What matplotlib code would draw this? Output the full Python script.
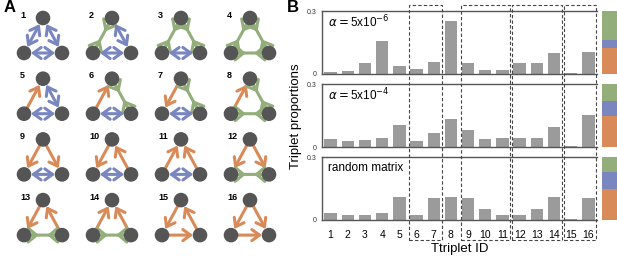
import numpy as np
import matplotlib.pyplot as plt
from matplotlib.patches import Circle, FancyArrowPatch, Rectangle
from matplotlib.transforms import blended_transform_factory

plt.rcParams['font.family'] = ['Liberation Sans', 'DejaVu Sans']

# ---- data ----
triplet_ids = np.arange(1, 17)
prop_low = [0.010, 0.013, 0.052, 0.160, 0.037, 0.023, 0.057, 0.256,
            0.052, 0.019, 0.019, 0.052, 0.052, 0.100, 0.004, 0.105]
prop_high = [0.037, 0.030, 0.035, 0.041, 0.106, 0.030, 0.065, 0.133,
             0.081, 0.037, 0.044, 0.045, 0.043, 0.094, 0.005, 0.156]
prop_random = [0.035, 0.025, 0.024, 0.035, 0.110, 0.024, 0.107, 0.111,
               0.106, 0.052, 0.024, 0.025, 0.052, 0.109, 0.006, 0.107]
panel_labels = [r'$\alpha = $5x10$^{-6}$', r'$\alpha = $5x10$^{-4}$', 'random matrix']

# edge type fractions (green, blue, orange) for each panel
frac_green = [0.46, 0.26, 0.24]
frac_blue = [0.12, 0.25, 0.26]
frac_orange = [0.42, 0.49, 0.50]

# groups boxed with dashed lines
groups = [(6, 7), (9, 11), (12, 14), (15, 16)]

# motifs: sides (top-left, top-right, left-right)
# 'B' blue two-way, 'G' green, '>' orange first->second, '<' orange second->first
motifs = [
    ('B', 'B', 'B'), ('G', 'B', 'B'), ('G', 'G', 'B'), ('G', 'G', 'G'),
    ('<', 'B', 'B'), ('<', 'G', 'B'), ('>', 'G', 'B'), ('<', 'G', 'G'),
    ('>', '>', 'B'), ('>', '<', 'B'), ('<', '<', 'B'), ('>', '>', 'G'),
    ('>', '<', 'G'), ('<', '<', 'G'), ('>', '<', '>'), ('>', '>', '>'),
]

blue = '#7a86bf'
green = '#93ae7b'
orange = '#d98a59'
node_c = '#555555'
bar_c = '#9b9b9b'
spine_c = '#555555'

fig = plt.figure(figsize=(6.17, 2.58), dpi=100)

# ---- panel A (drawn in pixel units) ----
axA = fig.add_axes([0, 0, 300 / 617, 1])
axA.set_xlim(0, 300)
axA.set_ylim(258, 0)
axA.axis('off')

R = 6.6
hp = ',head_length=0.55,head_width=0.4'
hp_g = ',head_length=0.6,head_width=0.5'


def seg(p, q, gap=R + 0.3):
    p, q = np.array(p, float), np.array(q, float)
    d = (q - p) / np.linalg.norm(q - p)
    return p + d * gap, q - d * gap


def draw_edge(p, q, kind):
    a, b = seg(p, q)
    kw = dict(mutation_scale=10, lw=2.2, shrinkA=0, shrinkB=0)
    if kind == 'B':
        axA.add_patch(FancyArrowPatch(a, b, arrowstyle='<->' + hp, color=blue, **kw))
    elif kind == '>':
        axA.add_patch(FancyArrowPatch(a, b, arrowstyle='->' + hp, color=orange, **kw))
    elif kind == '<':
        axA.add_patch(FancyArrowPatch(b, a, arrowstyle='->' + hp, color=orange, **kw))
    else:
        axA.add_patch(FancyArrowPatch(a, b, arrowstyle='-', color=green, **kw))
        axA.add_patch(FancyArrowPatch(a, a + (b - a) * 0.33, arrowstyle='->' + hp_g, color=green, **kw))
        axA.add_patch(FancyArrowPatch(b, b + (a - b) * 0.33, arrowstyle='->' + hp_g, color=green, **kw))


for i, sides in enumerate(motifs):
    r, c = divmod(i, 4)
    tx, ty = 43 + 69 * c, 18 + 60.7 * r
    T = (tx, ty)
    L = (tx - 19, ty + 35)
    Rn = (tx + 19, ty + 35)
    draw_edge(T, L, sides[0])
    draw_edge(T, Rn, sides[1])
    draw_edge(L, Rn, sides[2])
    for p in (T, L, Rn):
        axA.add_patch(Circle(p, R, color=node_c, zorder=5))
    axA.text(tx - 23, ty - 3, str(i + 1), fontsize=6.5, fontweight='bold',
             ha='left', va='center')

# ---- panel B ----
left, width, height = 322 / 617, 275 / 617, 0.2423
bottoms = [0.7132, 0.4302, 0.1473]
series = [prop_low, prop_high, prop_random]
axes = []
for k, (bot, vals, lab) in enumerate(zip(bottoms, series, panel_labels)):
    ax = fig.add_axes([left, bot, width, height])
    ax.bar(triplet_ids, vals, width=0.72, color=bar_c)
    ax.set_xlim(0.5, 16.5)
    ax.set_ylim(0, 0.3)
    ax.set_yticks([0, 0.3])
    ax.set_yticklabels(['0', '0.3'], fontsize=5, color='#333333')
    ax.tick_params(length=0, pad=4)
    ax.spines['right'].set_visible(False)
    for s in ('left', 'top', 'bottom'):
        ax.spines[s].set_color(spine_c)
        ax.spines[s].set_linewidth(1.0)
    if k < 2:
        ax.set_xticks([])
    else:
        ax.set_xticks(triplet_ids)
        ax.set_xticklabels([str(t) for t in triplet_ids], fontsize=7.5)
        ax.tick_params(axis='x', pad=7)
    ax.text(0.02, 0.83, lab, transform=ax.transAxes, fontsize=8.5, va='center')
    axes.append(ax)

    # edge type bar on the right
    axc = fig.add_axes([602 / 617, bot, 15 / 617, height])
    axc.bar([0], [frac_orange[k]], width=1, color=orange)
    axc.bar([0], [frac_blue[k]], bottom=frac_orange[k], width=1, color=blue)
    axc.bar([0], [frac_green[k]], bottom=frac_orange[k] + frac_blue[k], width=1, color=green)
    axc.set_xlim(-0.5, 0.5)
    axc.set_ylim(0, 1)
    axc.axis('off')

trans = blended_transform_factory(axes[2].transData, fig.transFigure)
for a, b in groups:
    rect = Rectangle((a - 0.42, 1 - 240 / 258), (b - a) + 0.88, 235 / 258,
                     transform=trans, fill=False, ec='#444444', lw=0.8,
                     ls=(0, (3, 2)), clip_on=False)
    fig.add_artist(rect)

fig.text(4 / 617, 1 - 7 / 258, 'A', fontsize=12, fontweight='bold', va='center')
fig.text(287 / 617, 1 - 8 / 258, 'B', fontsize=12, fontweight='bold', va='center')
fig.text(296 / 617, 1 - 116 / 258, 'Triplet proportions', rotation=90,
         fontsize=9.5, ha='center', va='center')
fig.text(460 / 617, 1 - 249 / 258, 'Ttriplet ID', fontsize=9.5,
         ha='center', va='center')

fig.savefig('out.png', dpi=100)
